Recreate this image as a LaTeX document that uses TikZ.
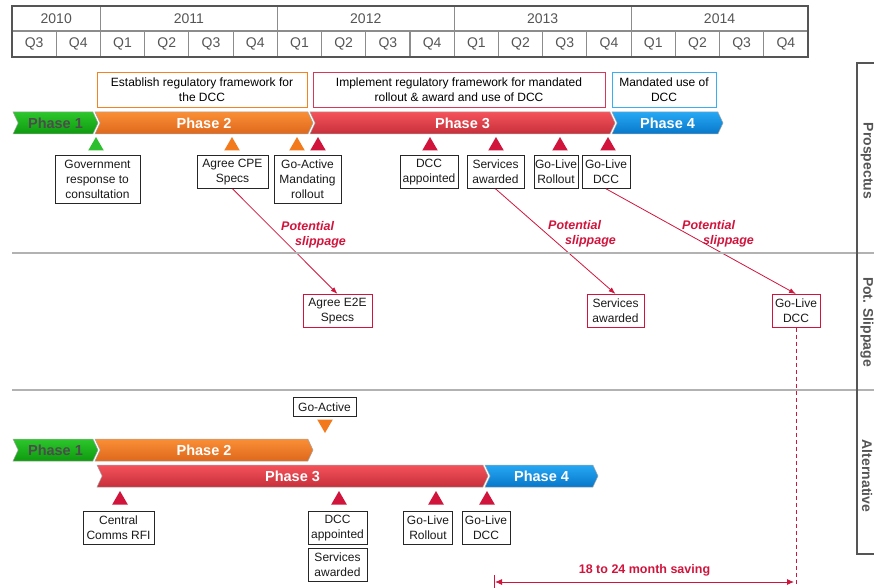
\documentclass[tikz,border=0pt]{standalone}
\usepackage{fontspec}
\setmainfont{Liberation Sans}
\usetikzlibrary{shapes.geometric, shapes.symbols, arrows.meta, positioning}

\definecolor{crimson}{HTML}{D0143C}
\definecolor{txtgray}{HTML}{555555}
\definecolor{framegray}{HTML}{555555}
\definecolor{gridgray}{HTML}{8C8C8C}
\definecolor{orangeln}{HTML}{F58220}
\definecolor{blueln}{HTML}{3AAEF0}
\definecolor{greentri}{HTML}{2EBF2E}
\definecolor{orangetri}{HTML}{F27A1C}
\definecolor{ph1top}{HTML}{2CC62C}
\definecolor{ph1bot}{HTML}{0E9A0E}
\definecolor{ph2top}{HTML}{FA8F36}
\definecolor{ph2bot}{HTML}{DE671C}
\definecolor{ph3top}{HTML}{F5525A}
\definecolor{ph3bot}{HTML}{C6303B}
\definecolor{ph4top}{HTML}{26A8F4}
\definecolor{ph4bot}{HTML}{0877CA}

\begin{document}
\begin{tikzpicture}[x=1pt, y=-1pt,
  qcell/.style={font=\fontsize{14}{16}\selectfont, text=txtgray},
  phase/.style={signal, signal to=east, signal from=west, signal pointer angle=130,
    minimum height=22pt, inner sep=0pt, draw=black!35, line width=0.5pt,
    font=\fontsize{14.5}{16}\selectfont\bfseries, text=white},
  ph1/.style={phase, top color=ph1top, bottom color=ph1bot, text=black!70},
  ph2/.style={phase, top color=ph2top, bottom color=ph2bot},
  ph3/.style={phase, top color=ph3top, bottom color=ph3bot},
  ph4/.style={phase, top color=ph4top, bottom color=ph4bot},
  hdr/.style={draw, line width=0.9pt, align=center, minimum height=35pt, inner sep=1pt,
    anchor=north, font=\fontsize{12}{15}\selectfont},
  mbox/.style={draw=black!85, line width=0.8pt, align=center, inner xsep=1pt, inner ysep=2pt,
    anchor=north, text=black!90, font=\fontsize{12}{15}\selectfont},
  two/.style={minimum height=33pt},
  three/.style={minimum height=48pt},
  slipbox/.style={mbox, two, draw=crimson},
  tri/.style={regular polygon, regular polygon sides=3, minimum size=18pt, inner sep=0pt, fill=crimson},
  slip/.style={-{Latex[length=7pt,width=5pt]}, crimson, line width=0.8pt},
  sliplabel/.style={align=left, anchor=north west, inner sep=0pt, text=crimson,
    font=\fontsize{12.5}{15}\selectfont\bfseries\itshape},
  sep/.style={draw=black!30, line width=1.2pt},
  side/.style={rotate=-90, text=txtgray, font=\fontsize{14}{16}\selectfont\bfseries}
]
\useasboundingbox (0,0) rectangle (874,588);

% timeline header
\foreach \q [count=\i from 0] in {Q3,Q4,Q1,Q2,Q3,Q4,Q1,Q2,Q3,Q4,Q1,Q2,Q3,Q4,Q1,Q2,Q3,Q4}
  \node[qcell] (q\i) at ({12+44.222*(\i+0.5)}, 44) {\q};
\foreach \yr/\a/\b in {2010/0/2, 2011/2/6, 2012/6/10, 2013/10/14, 2014/14/18}
  \node[qcell] (y\yr) at ({12+44.222*(\a+\b)/2}, 19) {\yr};
\foreach \i in {1,...,17}
  \draw[gridgray, line width=1.1pt] ({12+44.222*\i}, 31) -- ({12+44.222*\i}, 57);
\foreach \i in {2,6,10,14}
  \draw[gridgray, line width=1.1pt] ({12+44.222*\i}, 6) -- ({12+44.222*\i}, 31);
\draw[gridgray, line width=1.1pt] (12,31) -- (808,31);
\draw[framegray, line width=2.4pt] (12,6) rectangle (808,57);

% prospectus
\node[hdr, draw=orangeln, minimum width=210pt] (est) at (202,72) {Establish regulatory framework for\\the DCC};
\node[hdr, draw=crimson!85, minimum width=292pt] (impl) at (459,72) {Implement regulatory framework for mandated\\rollout \& award and use of DCC};
\node[hdr, draw=blueln, minimum width=104pt] (mand) at (664,72) {Mandated use of\\DCC};

\node[ph1, minimum width=85pt] (p1) at (55.5,123) {Phase 1};
\node[ph2, minimum width=218pt] (p2) at (204,123) {Phase 2};
\node[ph3, minimum width=305pt] (p3) at (462.5,123) {Phase 3};
\node[ph4, minimum width=111pt] (p4) at (667.5,123) {Phase 4};

\node[tri, fill=greentri] (t1) at (96,146) {};
\node[tri, fill=orangetri] (t2) at (232,146) {};
\node[tri, fill=orangetri] (t3) at (297,146) {};
\node[tri] (t4) at (318,146) {};
\node[tri] (t5) at (430,146) {};
\node[tri] (t6) at (496,146) {};
\node[tri] (t7) at (560,146) {};
\node[tri] (t8) at (608,146) {};

\node[mbox, three, minimum width=85pt] (gov) at (97.5,155) {Government\\response to\\consultation};
\node[mbox, two, minimum width=71pt] (cpe) at (232.5,155) {Agree CPE\\Specs};
\node[mbox, three, minimum width=67pt] (goact) at (307.5,155) {Go-Active\\Mandating\\rollout};
\node[mbox, two, minimum width=58pt] (dccapp) at (429,155) {DCC\\appointed};
\node[mbox, two, minimum width=57pt] (servaw) at (495.5,155) {Services\\awarded};
\node[mbox, two, minimum width=44pt] (golroll) at (556,155) {Go-Live\\Rollout};
\node[mbox, two, minimum width=48pt] (goldcc) at (606,155) {Go-Live\\DCC};

% potential slippage
\node[slipbox, minimum width=69pt] (e2e) at (337.5,294) {Agree E2E\\Specs};
\node[slipbox, minimum width=57pt] (slipserv) at (615.5,294) {Services\\awarded};
\node[slipbox, minimum width=48pt] (slipdcc) at (796,294) {Go-Live\\DCC};

\draw[slip] (cpe.south) -- (e2e.north);
\draw[slip] (servaw.south) -- (slipserv.north);
\draw[slip] (goldcc.south) -- (slipdcc.north);

\node[sliplabel] (sl1) at (281,221) {Potential\\\hspace*{14pt}slippage};
\node[sliplabel] (sl2) at (548,220) {Potential\\\hspace*{17pt}slippage};
\node[sliplabel] (sl3) at (682,220) {Potential\\\hspace*{21pt}slippage};

% alternative
\node[mbox, minimum width=63pt, minimum height=19pt, inner ysep=1pt] (goactive) at (324.5,397) {Go-Active};
\node[tri, fill=orangetri, shape border rotate=180] (td) at (325,424) {};

\node[ph1, minimum width=85pt] (b1) at (55.5,450) {Phase 1};
\node[ph2, minimum width=218pt] (b2) at (204,450) {Phase 2};
\node[ph3, minimum width=391pt] (b3) at (292.5,476) {Phase 3};
\node[ph4, minimum width=113pt] (b4) at (541.5,476) {Phase 4};

\node[tri] (u1) at (120,500) {};
\node[tri] (u2) at (339,500) {};
\node[tri] (u3) at (436,500) {};
\node[tri] (u4) at (487,500) {};

\node[mbox, two, minimum width=71pt] (rfi) at (118.5,511) {Central\\Comms RFI};
\node[mbox, two, minimum width=59pt] (dccapp2) at (337.5,511) {DCC\\appointed};
\node[mbox, two, minimum width=59pt] (servaw2) at (337.5,548) {Services\\awarded};
\node[mbox, two, minimum width=49pt] (golroll2) at (428,511) {Go-Live\\Rollout};
\node[mbox, two, minimum width=48pt] (goldcc2) at (486,511) {Go-Live\\DCC};

% saving
\coordinate (savL) at (494,582);
\coordinate (savR) at (slipdcc.south |- savL);
\draw[crimson, line width=0.7pt, dash pattern=on 4pt off 3pt] (slipdcc.south) -- ([yshift=-2pt]savR);
\draw[crimson, line width=0.9pt] ([yshift=-8pt]savL) -- ([yshift=7pt]savL);
\draw[crimson, line width=0.9pt, {Latex[length=7pt,width=6pt]}-{Latex[length=7pt,width=6pt]}]
  ([xshift=1pt]savL) -- ([xshift=-2pt]savR)
  node[midway, above=2pt, font=\fontsize{12.5}{15}\selectfont\bfseries] (savtxt) {18 to 24 month saving};

% rows
\draw[sep] (12,253) -- (874,253);
\draw[sep] (12,390) -- (874,390);
\draw[framegray, line width=2.2pt] (874,63) -- (857,63) -- (857,554) -- (874,554);
\node[side] (lpro) at (867,161) {Prospectus};
\node[side] (lpot) at (867,322) {Pot. Slippage};
\node[side] (lalt) at (867,476) {Alternative};
\end{tikzpicture}
\end{document}
